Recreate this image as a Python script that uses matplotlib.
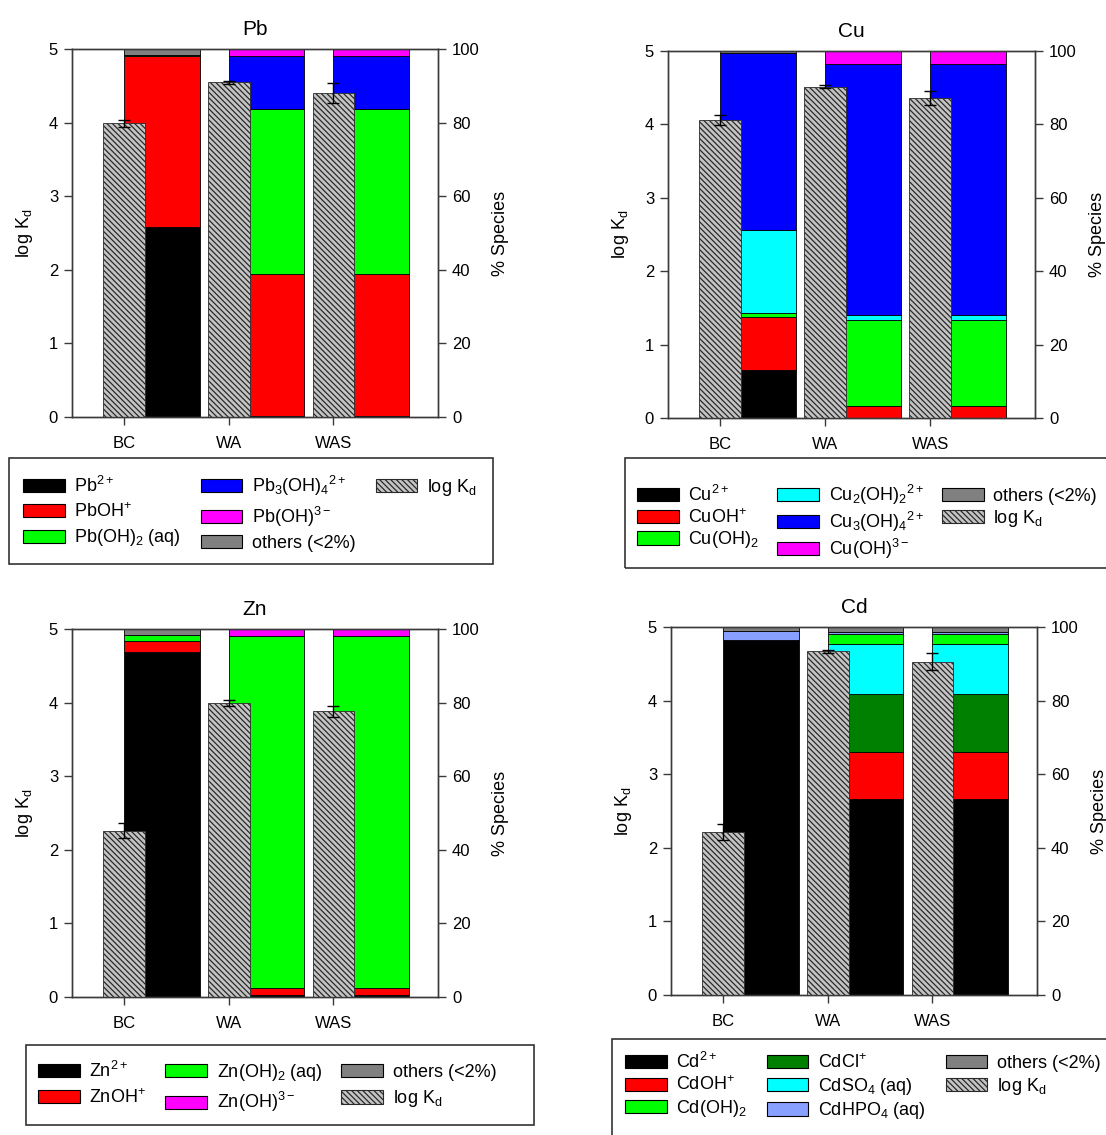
import numpy as np
import matplotlib
matplotlib.use('Agg')
import matplotlib.pyplot as plt
from matplotlib.patches import Patch, Rectangle

plt.rcParams['font.family'] = ['Liberation Sans', 'DejaVu Sans']
plt.rcParams['mathtext.fontset'] = 'custom'
plt.rcParams['mathtext.rm'] = 'Liberation Sans'
plt.rcParams['mathtext.it'] = 'Liberation Sans:italic'
plt.rcParams['mathtext.bf'] = 'Liberation Sans:bold'
plt.rcParams['hatch.linewidth'] = 0.9
plt.rcParams['font.size'] = 12

samples = ['BC', 'WA', 'WAS']

# Pb
pb_kd = [3.99, 4.55, 4.40]
pb_kd_err = [0.05, 0.02, 0.14]
pb_names = [r'Pb$^{2+}$', r'PbOH$^{+}$', r'Pb(OH)$_2$ (aq)',
            r'Pb$_3$(OH)$_4$$^{2+}$', r'Pb(OH)$^{3-}$', 'others (<2%)']
pb_colors = ['#000000', '#ff0000', '#00ff00', '#0000ff', '#ff00ff', '#808080']
pb_pct = [[51.5, 0.2, 0.2],
          [46.5, 38.6, 38.6],
          [0.3, 44.9, 44.9],
          [0.0, 14.3, 14.3],
          [0.0, 2.0, 2.0],
          [1.7, 0.0, 0.0]]

# Cu
cu_kd = [4.06, 4.51, 4.36]
cu_kd_err = [0.07, 0.02, 0.09]
cu_names = [r'Cu$^{2+}$', r'CuOH$^{+}$', r'Cu(OH)$_2$',
            r'Cu$_2$(OH)$_2$$^{2+}$', r'Cu$_3$(OH)$_4$$^{2+}$', r'Cu(OH)$^{3-}$',
            'others (<2%)']
cu_colors = ['#000000', '#ff0000', '#00ff00', '#00ffff', '#0000ff', '#ff00ff', '#808080']
cu_pct = [[13.0, 0.0, 0.0],
          [14.5, 3.4, 3.4],
          [1.1, 23.2, 23.2],
          [22.7, 1.5, 1.5],
          [48.1, 68.3, 68.3],
          [0.0, 3.6, 3.6],
          [0.6, 0.0, 0.0]]

# Zn
zn_kd = [2.26, 4.00, 3.88]
zn_kd_err = [0.10, 0.04, 0.08]
zn_names = [r'Zn$^{2+}$', r'ZnOH$^{+}$', r'Zn(OH)$_2$ (aq)', r'Zn(OH)$^{3-}$',
            'others (<2%)']
zn_colors = ['#000000', '#ff0000', '#00ff00', '#ff00ff', '#808080']
zn_pct = [[93.7, 0.6, 0.6],
          [3.0, 1.9, 1.9],
          [1.6, 95.7, 95.7],
          [0.0, 1.8, 1.8],
          [1.7, 0.0, 0.0]]

# Cd
cd_kd = [2.22, 4.67, 4.53]
cd_kd_err = [0.11, 0.02, 0.12]
cd_names = [r'Cd$^{2+}$', r'CdOH$^{+}$', r'Cd(OH)$_2$', r'CdCl$^{+}$',
            r'CdSO$_4$ (aq)', r'CdHPO$_4$ (aq)', 'others (<2%)']
cd_colors = ['#000000', '#ff0000', '#00ff00', '#008000', '#00ffff', '#88a0ff', '#808080']
cd_pct = [[96.5, 53.2, 53.2],
          [0.0, 12.7, 12.7],
          [0.0, 2.9, 2.9],
          [0.0, 15.8, 15.8],
          [0.0, 13.6, 13.6],
          [2.4, 0.5, 0.5],
          [1.1, 1.3, 1.3]]
cd_stack = [0, 1, 3, 4, 2, 5, 6]

KD_FACE = '#c4c4c4'
KD_HATCH = '\\' * 6
SPINE = '#3a3a3a'

W, H = 1106, 1135
fig = plt.figure(figsize=(W / 100, H / 100), dpi=100)


def px_axes(left, top, right, bottom):
    return fig.add_axes([left / W, 1 - bottom / H, (right - left) / W, (bottom - top) / H])


def draw_panel(ax, title, kd, kd_err, pct, colors, stack=None):
    if stack is None:
        stack = range(len(pct))
    ax2 = ax.twinx()
    x = np.arange(len(samples))
    bottom = np.zeros(len(samples))
    for i in stack:
        vals = np.array(pct[i])
        ax2.bar(x, vals, width=0.72, bottom=bottom, align='edge',
                color=colors[i], edgecolor='black', linewidth=0.6)
        bottom += vals
    ax.bar(x, kd, width=0.4, color=KD_FACE, hatch=KD_HATCH,
           edgecolor='#2a2a2a', linewidth=0.6, yerr=kd_err, capsize=4,
           error_kw=dict(elinewidth=1, capthick=1, ecolor='black'))
    ax.set_zorder(ax2.get_zorder() + 1)
    ax.patch.set_visible(False)
    ax.set_xlim(-0.5, 3.0)
    ax.set_ylim(0, 5)
    ax2.set_ylim(0, 100)
    ax.set_xticks(x, samples)
    ax.set_yticks(range(6))
    ax2.set_yticks(range(0, 101, 20))
    for a in (ax, ax2):
        for s in a.spines.values():
            s.set_color(SPINE)
            s.set_linewidth(1.0)
        a.tick_params(direction='out', length=6, width=1, color=SPINE,
                      labelsize=12, pad=4)
    ax.tick_params(axis='x', pad=8)
    ax.set_ylabel(r'log K$_\mathrm{d}$', fontsize=13, labelpad=10)
    ax2.set_ylabel('% Species', fontsize=13, labelpad=9)
    ax.set_title(title, fontsize=15, pad=10)
    return ax2


def add_legend(names, colors, box, first, rows_gap, colgap, blank=False):
    # box: left, top, right, bottom in pixels; first: x, y of first entry
    l, t, r, b = box
    fig.add_artist(Rectangle((l / W, 1 - b / H), (r - l) / W, (b - t) / H,
                             transform=fig.transFigure, facecolor='none',
                             edgecolor='#333333', linewidth=1.2))
    handles = [Patch(facecolor=c, edgecolor='black', linewidth=0.8) for c in colors]
    handles.append(Patch(facecolor=KD_FACE, edgecolor='#2a2a2a', hatch=KD_HATCH,
                         linewidth=0.8))
    labels = list(names) + [r'log K$_\mathrm{d}$']
    if blank:
        handles.append(Patch(facecolor='none', edgecolor='none'))
        labels.append('')
    leg = fig.legend(handles, labels, loc='upper left',
                     bbox_to_anchor=(first[0] / W, 1 - first[1] / H),
                     ncol=3, fontsize=13, frameon=False, handlelength=2.3,
                     handleheight=0.75, handletextpad=0.55, labelspacing=rows_gap,
                     borderpad=0, borderaxespad=0, columnspacing=colgap)
    return leg


ax_pb = px_axes(72, 49, 438, 417)
draw_panel(ax_pb, 'Pb', pb_kd, pb_kd_err, pb_pct, pb_colors)
ax_cu = px_axes(668, 51, 1035, 418)
draw_panel(ax_cu, 'Cu', cu_kd, cu_kd_err, cu_pct, cu_colors)
ax_zn = px_axes(72, 629, 438, 997)
draw_panel(ax_zn, 'Zn', zn_kd, zn_kd_err, zn_pct, zn_colors)
ax_cd = px_axes(671, 627, 1037, 995)
draw_panel(ax_cd, 'Cd', cd_kd, cd_kd_err, cd_pct, cd_colors, cd_stack)

add_legend(pb_names, pb_colors, (9, 458, 493, 564), (23, 474), 0.35, 1.1, blank=True)
add_legend(cu_names, cu_colors, (625, 458, 1130, 568), (637, 483), 0.15, 1.0)
add_legend(zn_names, zn_colors, (26, 1045, 534, 1125), (38, 1061), 0.4, 1.05)
add_legend(cd_names, cd_colors, (612, 1039, 1130, 1145), (625, 1052), 0.2, 1.1)

fig.savefig('out.png', dpi=100)
